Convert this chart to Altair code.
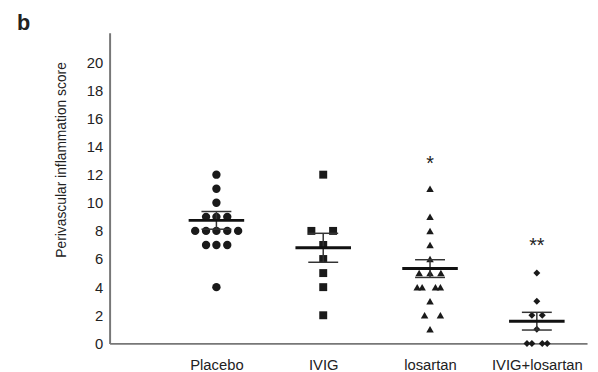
import altair as alt
import pandas as pd

groups = ["Placebo", "IVIG", "losartan", "IVIG+losartan"]
positions = [1, 2, 3, 4]

# individual scores, with horizontal jitter (px)
placebo = [12, 11, 10, 9, 9, 9, 8, 8, 8, 8, 8, 7, 7, 7, 4]
placebo_dx = [0, 0, 0, -10.5, 0, 11, -21.5, -10.5, 0, 11, 22, -10.5, 0, 11, 0]
ivig = [12, 8, 8, 7, 6, 5, 4, 2]
ivig_dx = [0, -12, 10, 0, 0, 0, 0, 0]
losartan = [11, 9, 8, 7, 6, 5, 5, 5, 4, 4, 4, 4, 3, 2, 2, 1]
losartan_dx = [0, 0, 0, 0, 0, -11, 0, 11, -13, -8, 5.5, 10.5, 0, -5.5, 10.5, 0]
combo = [5, 3, 2, 2, 1, 0, 0, 0, 0]
combo_dx = [0, 0, -5, 5.5, 0, -10, -5, 5.5, 10.5]

# mean and SEM
means = [8.75, 6.8, 5.32, 1.58]
sems = [0.63, 1.03, 0.63, 0.63]

# significance marks
sig_groups = ["losartan", "IVIG+losartan"]
sig_text = ["*", "**"]
sig_y = [12.34, 6.48]

y_ticks = [0, 2, 4, 6, 8, 10, 12, 14, 16, 18, 20]

PX_PER_UNIT = 108.2
rows = []
for g, p, vals, dxs in zip(groups, positions, [placebo, ivig, losartan, combo],
                           [placebo_dx, ivig_dx, losartan_dx, combo_dx]):
    for v, d in zip(vals, dxs):
        rows.append({"group": g, "x": p + d / PX_PER_UNIT, "score": v})
pts = pd.DataFrame(rows)

summ = pd.DataFrame({"group": groups, "pos": positions, "mean": means, "sem": sems})
summ["lo"] = summ["mean"] - summ["sem"]
summ["hi"] = summ["mean"] + summ["sem"]
summ["mx1"] = summ["pos"] - 0.26
summ["mx2"] = summ["pos"] + 0.26
summ["cx1"] = summ["pos"] - 0.14
summ["cx2"] = summ["pos"] + 0.14

sig = pd.DataFrame({"group": sig_groups, "text": sig_text, "y": sig_y,
                    "pos": [positions[groups.index(g)] for g in sig_groups]})

label_expr = "['', 'Placebo', 'IVIG', 'losartan', 'IVIG+losartan'][datum.value]"
xscale = alt.Scale(domain=[0, 4.47], nice=False, zero=False)
yscale = alt.Scale(domain=[0, 22.1], nice=False)

xaxis = alt.Axis(values=positions, labelExpr=label_expr, title=None, grid=False,
                 ticks=False, domainColor="#777777", domainWidth=2,
                 labelFontSize=15, labelColor="#222222", labelPadding=14,
                 labelFont="Liberation Sans", labelOverlap=False)
yaxis = alt.Axis(values=y_ticks, title="Perivascular inflammation score",
                 grid=False, ticks=False, domainColor="#777777", domainWidth=2,
                 labelFontSize=15, labelColor="#222222", labelPadding=7,
                 labelFont="Liberation Sans", labelOverlap=False, labelFlush=False,
                 titleFont="Liberation Sans",
                 titleFontSize=14, titleFontWeight="normal", titleColor="#222222",
                 titleX=-45, titleY=128.5, titleAlign="center",
                 titleBaseline="alphabetic", titleAngle=270)

X = lambda f: alt.X(f, scale=xscale, axis=xaxis)
Y = lambda f: alt.Y(f, scale=yscale, axis=yaxis)

points = alt.Chart(pts).mark_point(filled=True, opacity=1, color="#1a1a1a").encode(
    x=X("x:Q"),
    y=Y("score:Q"),
    shape=alt.Shape("group:N", scale=alt.Scale(domain=groups,
                    range=["circle", "square", "triangle-up", "diamond"]), legend=None),
    size=alt.Size("group:N", scale=alt.Scale(domain=groups, range=[72, 50, 62, 50]),
                  legend=None),
)

errbar = alt.Chart(summ).mark_rule(color="#333333", strokeWidth=1.5).encode(
    x=X("pos:Q"), y=Y("lo:Q"), y2="hi:Q")
cap_hi = alt.Chart(summ).mark_rule(color="#333333", strokeWidth=1.5).encode(
    x=X("cx1:Q"), x2="cx2:Q", y=Y("hi:Q"))
cap_lo = alt.Chart(summ).mark_rule(color="#333333", strokeWidth=1.5).encode(
    x=X("cx1:Q"), x2="cx2:Q", y=Y("lo:Q"))
meanline = alt.Chart(summ).mark_rule(color="#111111", strokeWidth=3).encode(
    x=X("mx1:Q"), x2="mx2:Q", y=Y("mean:Q"))

stars = alt.Chart(sig).mark_text(fontSize=20, font="Liberation Sans", color="#222222",
                                 baseline="alphabetic", align="center").encode(
    x=X("pos:Q"), y=Y("y:Q"), text="text:N")

panel = alt.Chart(pd.DataFrame({"t": ["b"]})).mark_text(
    fontSize=22, fontWeight="bold", font="Liberation Sans", color="#222222",
    align="left", baseline="alphabetic").encode(
    x=alt.value(-94), y=alt.value(-2.5), text="t:N")

chart = alt.layer(points, errbar, cap_hi, cap_lo, meanline, stars, panel).properties(
    width=484, height=315,
    autosize=alt.AutoSizeParams(type="none"),
    padding={"left": 103, "top": 22.5, "right": 3, "bottom": 26},
).configure_view(stroke=None).configure_axis(labelOverlap=False)

chart.save("out.html", embed_options={"renderer": "svg", "actions": False})
